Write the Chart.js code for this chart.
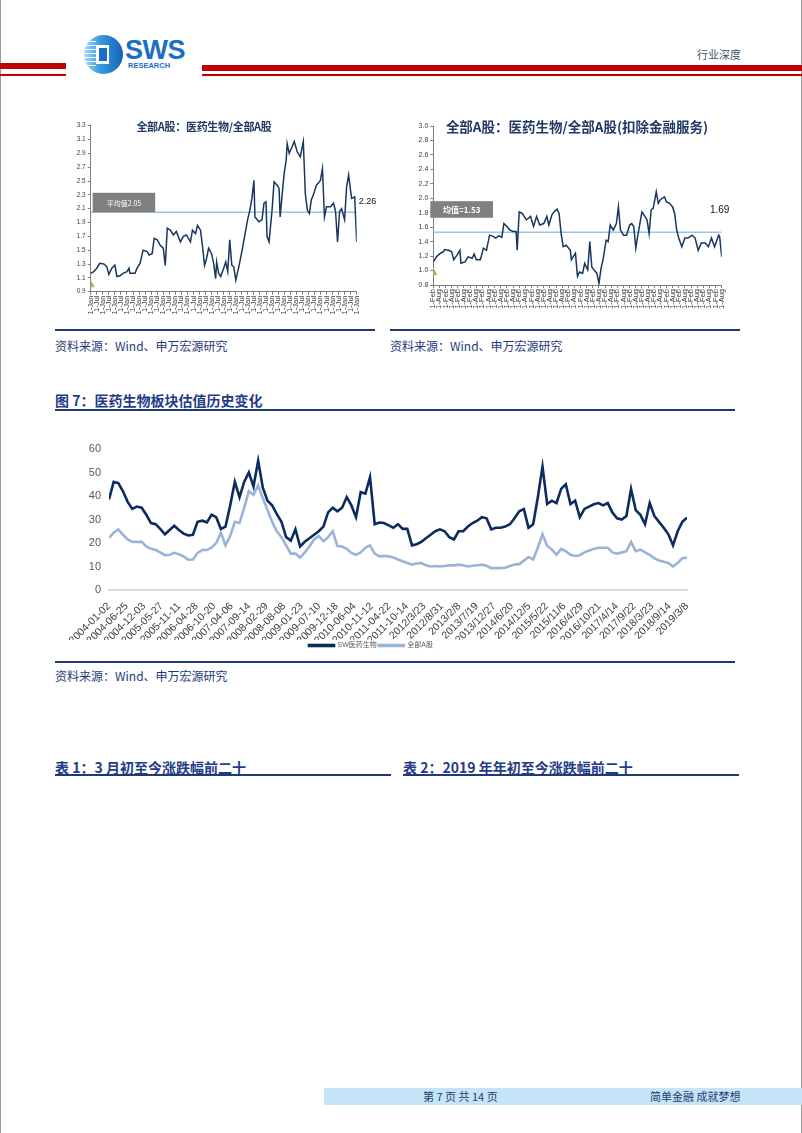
<!DOCTYPE html>
<html><head><meta charset="utf-8">
<script src="https://cdn.jsdelivr.net/npm/chart.js@4.4.1/dist/chart.umd.min.js"></script>
<style>
html,body{margin:0;padding:0;background:#fff;}
body{width:802px;height:1133px;position:relative;overflow:hidden;font-family:"Noto Sans CJK SC","Noto Sans",sans-serif;}
.abs{position:absolute;}
.txt{position:absolute;line-height:1;white-space:nowrap;}
.src{font-size:12px;color:#1f3b7a;}
.head{font-size:14px;font-weight:bold;color:#1f3c88;}
canvas{position:absolute;}
</style></head><body>
<!-- page borders -->
<div class="abs" style="left:0;top:0;width:1px;height:1133px;background:#9a9a9a"></div>
<div class="abs" style="left:801px;top:0;width:1px;height:1133px;background:#9a9a9a"></div>
<!-- header bars -->
<div class="abs" style="left:0;top:63px;width:66px;height:6px;background:#c00000"></div>
<div class="abs" style="left:0;top:74px;width:66px;height:1.5px;background:#c00000"></div>
<div class="abs" style="left:202px;top:65px;width:600px;height:6px;background:#c00000"></div>
<div class="abs" style="left:202px;top:74px;width:600px;height:1.5px;background:#c00000"></div>
<!-- logo -->
<div class="abs" style="left:84px;top:35px;width:39px;height:39px;border-radius:50%;background:linear-gradient(90deg,#a9dbf7 0%,#3a9be0 40%,#1562b9 100%);"></div>
<div class="abs" style="left:84px;top:41px;width:12px;height:27px;background:repeating-linear-gradient(180deg,rgba(255,255,255,0.9) 0 1.5px,transparent 1.5px 4px);"></div>
<div class="abs" style="left:96px;top:45px;width:13px;height:19px;background:#fff;"></div>
<div class="abs" style="left:99px;top:48px;width:8px;height:13px;background:#1a6fc4;"></div>
<div class="txt" style="left:125px;top:37px;font-family:'Liberation Sans',Arial,sans-serif;font-weight:bold;font-size:27px;color:#1a6fc4;letter-spacing:-0.5px;">SWS</div>
<div class="txt" style="left:128px;top:62px;font-family:'Liberation Sans',Arial,sans-serif;font-weight:bold;font-size:7.5px;color:#1a6fc4;">RESEARCH</div>
<div class="txt" style="left:697px;top:49px;font-size:11px;color:#44546a;">行业深度</div>

<!-- small charts -->
<canvas id="c1" width="330" height="215" style="left:55px;top:112px"></canvas>
<canvas id="c2" width="350" height="215" style="left:390px;top:112px"></canvas>
<div class="txt" style="left:204px;top:121px;transform:translateX(-50%);font-size:11px;font-weight:bold;color:#1f3864;letter-spacing:-0.3px;">全部A股：医药生物/全部A股</div>
<div class="txt" style="left:577px;top:120px;transform:translateX(-50%);font-size:13.5px;font-weight:bold;color:#1f3864;">全部A股：医药生物/全部A股(扣除金融服务)</div>
<div class="abs" style="left:55px;top:329px;width:320px;height:1.5px;background:#1f3b73"></div>
<div class="abs" style="left:390px;top:329px;width:350px;height:1.5px;background:#1f3b73"></div>
<div class="txt src" style="left:55px;top:340px;">资料来源：Wind、申万宏源研究</div>
<div class="txt src" style="left:390px;top:340px;">资料来源：Wind、申万宏源研究</div>

<!-- figure 7 -->
<div class="txt head" style="left:55px;top:393px;">图 7：医药生物板块估值历史变化</div>
<div class="abs" style="left:55px;top:409px;width:680px;height:2px;background:#1f3b73"></div>
<canvas id="c3" width="680" height="224" style="left:55px;top:435px"></canvas>
<div class="abs" style="left:55px;top:661px;width:680px;height:1.5px;background:#1f3b73"></div>
<div class="txt src" style="left:55px;top:670px;">资料来源：Wind、申万宏源研究</div>

<!-- tables headings -->
<div class="txt head" style="left:55px;top:760px;">表 1：3 月初至今涨跌幅前二十</div>
<div class="abs" style="left:55px;top:774px;width:336px;height:2px;background:#1f3b73"></div>
<div class="txt head" style="left:403px;top:760px;">表 2：2019 年年初至今涨跌幅前二十</div>
<div class="abs" style="left:403px;top:774px;width:336px;height:2px;background:#1f3b73"></div>

<!-- footer -->
<div class="abs" style="left:324px;top:1088px;width:478px;height:17px;background:#c6e4f7"></div>
<div class="txt" style="left:423px;top:1091px;font-size:11px;color:#1f3b73;">第 7 页 共 14 页</div>
<div class="txt" style="left:650px;top:1091px;font-size:11px;color:#1f3b73;">简单金融 成就梦想</div>

<script>
// ---------- data ----------
const mainTickLabels = ['2004-01-02','2004-06-25','2004-12-03','2005-05-27','2005-11-11','2006-04-28','2006-10-20','2007-04-06','2007-09-14','2008-02-29','2008-08-08','2009-01-23','2009-07-10','2009-12-18','2010-06-04','2010-11-12','2011-04-22','2011-10-14','2012/3/23','2012/8/31','2013/2/8','2013/7/19','2013/12/27','2014/6/20','2014/12/5','2015/5/22','2015/11/6','2016/4/29','2016/10/21','2017/4/14','2017/9/22','2018/3/23','2018/9/14','2019/3/8'];
const mainYTicks = [0,10,20,30,40,50,60];
const swPharma = [38.5,46,45.5,42,37.5,34.5,35.5,35,32,28.5,
 28,26,23.7,25.5,27.3,25.5,24,23.2,23.5,29,
 29.5,28.8,32,31,26,27,36,46,39.5,46,
 50,44,55,43.5,38,36,32.3,29,22.5,21,
 25.8,18.5,20.5,22,23.5,25,27,33,35,33.5,
 35,39.5,36,31,41.6,41,48,28,28.7,28.5,
 27.5,26.5,28,26,26,19,19.5,20.5,22,23.5,
 25,25.8,25,22.5,21.5,25,25,27,28.5,29.5,
 31,30.5,25.8,26.5,26.5,27,28,30.5,33.5,34.4,
 26.5,28,39.5,52.5,36.6,38,37,43,45,36.6,
 38,31,34.5,35.5,36.5,37,36,37,33,30.5,
 30,31.5,43,34,32,28,37,31.5,29,26.5,
 23.7,19,25,29,30.8];
const allAShares = [22.2,24.4,25.8,23.5,21.5,20.5,20.5,20.5,18.5,17.5,
 17,16,14.8,15,15.8,15.2,14.3,12.9,13,15.8,
 17,17,18,20,24.4,19,23,29,28.5,35,
 42,40.5,44.5,39,34,29,25,22.5,19,15.5,
 15.5,13.8,16,18.5,21.5,23,20.8,22.5,25,18.7,
 18.5,17.5,15.8,15,16,18,19,15.5,14.3,14.5,
 14.3,13.8,13,12.2,11.5,10.8,11.3,11.5,10.5,10,
 10.2,10,10.2,10.5,10.5,10.8,10.5,10,10.3,10.5,
 10.8,10.3,9.3,9.3,9.3,9.5,10.2,10.8,11,12.5,
 14,13,18,23.7,18.7,17.2,15,17.5,16.5,15,
 14.5,14.8,16,16.8,17.5,18,18,18,16,15.5,
 16,16.5,20.5,16.5,17.2,16,15,13.5,12.5,12,
 11.5,10,11.5,13.5,13.8];
const mainSeriesNames = ['SW医药生物','全部A股'];

// left small chart: months since first tick, ratio
const leftMonths = [0,3,6,9,13,16,18,21,24,26,29,32,36,38,39,44,46,49,52,56,58,61,63,66,69,72,74,76,79,82,85,89,92,95,99,101,104,106,109,111,113,115,117,120,122,124,125,127,129,132,134,136,138,140,142,144,147,150,153,156,158,160,162,163,167,170,172,174,175,177,180,182,185,187,188,190,192,194,195,197,200,202,205,208,211,213,215,217,219,221,224,226,228,230,232,234,238,241,243,245,247,249,252,254,256,258,259,262,263,264];
const leftRatio = [1.165,1.19,1.24,1.31,1.30,1.26,1.15,1.24,1.285,1.12,1.13,1.165,1.19,1.24,1.165,1.165,1.24,1.31,1.50,1.48,1.43,1.45,1.67,1.65,1.57,1.53,1.28,1.82,1.79,1.72,1.77,1.62,1.70,1.72,1.62,1.79,1.74,1.86,1.79,1.55,1.28,1.38,1.53,1.45,1.31,1.09,1.33,1.165,1.12,1.24,1.33,1.19,1.65,1.285,1.26,1.07,1.26,1.48,1.72,1.96,2.08,2.25,2.51,1.98,1.91,1.94,2.18,2.20,1.70,1.62,2.08,2.49,2.44,2.39,1.98,2.30,2.61,2.80,3.04,2.90,3.00,3.07,2.92,2.85,3.07,2.32,2.08,2.03,2.23,2.30,2.44,2.47,2.51,2.68,1.98,2.13,2.13,2.18,2.06,1.62,2.06,2.10,1.94,2.42,2.59,2.35,2.25,2.27,1.94,1.62];
const leftTickLabels = Array.from({length:45},(_,k)=> k%2 ? '1-Jul' : '1-Jan');
const leftYTicks = [0.9,1.1,1.3,1.5,1.7,1.9,2.1,2.3,2.5,2.7,2.9,3.1,3.3];
const leftMean = 2.05, leftMeanText = '平均值2.05', leftLastText = '2.26';

// right small chart
const rightMonths = [0,3,7,10,11,15,18,20,23,26,27,31,34,38,40,42,46,49,52,55,59,61,64,67,69,72,75,78,81,82,84,87,91,95,98,101,104,108,111,113,116,118,121,123,125,127,130,134,135,139,141,143,146,148,151,153,155,157,160,162,164,166,169,171,173,176,179,181,183,186,189,192,194,196,198,200,204,206,209,211,213,215,218,220,222,226,228,231,234,236,238,240,243,246,249,253,256,259,262,266,269,272,275,279,280,282];
const rightRatio = [1.12,1.19,1.24,1.26,1.29,1.28,1.26,1.15,1.21,1.28,1.10,1.12,1.19,1.17,1.23,1.15,1.15,1.31,1.28,1.49,1.47,1.45,1.48,1.46,1.65,1.61,1.56,1.54,1.54,1.28,1.81,1.79,1.70,1.75,1.61,1.75,1.63,1.65,1.75,1.63,1.77,1.81,1.85,1.79,1.51,1.33,1.35,1.28,1.15,1.24,0.92,0.98,0.96,1.10,1.01,1.40,1.05,1.01,0.96,0.82,1.03,1.15,1.42,1.40,1.63,1.56,1.65,1.88,1.56,1.49,1.49,1.63,1.65,1.61,1.31,1.49,1.81,1.77,1.70,1.51,1.84,1.86,2.09,1.93,1.98,2.02,1.95,1.93,1.88,1.79,1.56,1.45,1.33,1.45,1.45,1.49,1.45,1.28,1.38,1.38,1.33,1.45,1.33,1.49,1.47,1.19];
const rightTickLabels = Array.from({length:48},(_,k)=> k%2 ? '1-Aug' : '1-Feb');
const rightYTicks = [0.8,1.0,1.2,1.4,1.6,1.8,2.0,2.2,2.4,2.6,2.8,3.0];
const rightMean = 1.53, rightMeanText = '均值=1.53', rightLastText = '1.69';

// ---------- rendering ----------
Chart.defaults.font.family = '"Liberation Sans","Noto Sans CJK SC",Arial,sans-serif';
Chart.defaults.animation = false;

const annot = {
  id: 'annot',
  afterDatasetsDraw(chart, args, o) {
    if (!o || !o.box) return;
    const {ctx, chartArea, scales: {x, y}} = chart;
    ctx.save();
    const b = o.box;
    const x0 = chartArea.left + b.dx0, x1 = x.getPixelForValue(b.x1);
    const yt = y.getPixelForValue(b.yTop), yb = y.getPixelForValue(b.yBot);
    ctx.fillStyle = b.color;
    ctx.fillRect(x0, yt, x1 - x0, yb - yt);
    ctx.fillStyle = '#fff';
    ctx.font = b.font;
    ctx.textAlign = 'center';
    ctx.textBaseline = 'middle';
    ctx.fillText(b.text, (x0 + x1) / 2, (yt + yb) / 2 + 0.5);
    const l = o.label;
    ctx.fillStyle = '#111';
    ctx.font = l.font;
    ctx.textAlign = l.align;
    ctx.fillText(l.text, x.getPixelForValue(l.x) + l.dx, y.getPixelForValue(l.y));
    ctx.restore();
  }
};

function smallChart(id, months, ratio, tickLabels, yTicks, mean, markerY, plot, box, label) {
  const xMax = (tickLabels.length - 1) * 6;
  const pts = months.map((m, i) => ({x: m, y: ratio[i]}));
  return new Chart(document.getElementById(id), {
    type: 'line',
    data: {datasets: [
      {data: pts, borderColor: '#17375e', borderWidth: 1.5, pointRadius: 0, order: 1},
      {data: [{x: 0, y: mean}, {x: xMax, y: mean}], borderColor: '#9dc3e6', borderWidth: 1.5, pointRadius: 0, order: 2},
      {data: [{x: 0, y: markerY}], showLine: false, pointStyle: 'triangle', pointRadius: 4, backgroundColor: '#92c35a', borderColor: '#92c35a', order: 0}
    ]},
    options: {
      responsive: false, devicePixelRatio: 1, events: [],
      layout: {padding: {left: 0, top: plot.top, right: plot.right, bottom: 0}},
      plugins: {legend: {display: false}, tooltip: {enabled: false}, annot: {box, label}},
      scales: {
        x: {type: 'linear', min: 0, max: xMax,
          afterBuildTicks: s => { s.ticks = tickLabels.map((_, k) => ({value: k * 6})); },
          afterFit: s => { s.height = plot.xh; },
          ticks: {autoSkip: false, maxRotation: 90, minRotation: 90, font: {size: 7.5}, color: '#404040', padding: 1,
            callback: (v, i) => tickLabels[i]},
          grid: {display: true, drawOnChartArea: false, drawTicks: true, tickLength: 3, color: '#7f7f7f'},
          border: {color: '#7f7f7f', width: 1}},
        y: {min: yTicks[0], max: yTicks[yTicks.length - 1],
          afterBuildTicks: s => { s.ticks = yTicks.map(v => ({value: v})); },
          afterFit: s => { s.width = plot.left; },
          ticks: {font: {size: plot.yFont}, color: '#404040', padding: 2, callback: v => Number(v).toFixed(1)},
          grid: {display: true, drawOnChartArea: false, drawTicks: true, tickLength: 3, color: '#7f7f7f'},
          border: {color: '#7f7f7f', width: 1}}
      }
    },
    plugins: [annot]
  });
}

smallChart('c1', leftMonths, leftRatio, leftTickLabels, leftYTicks, leftMean, 1.0,
  {left: 35.7, top: 13.7, right: 28.3, xh: 35.3, yFont: 6.5},
  {dx0: 2, x1: 64, yTop: 2.33, yBot: leftMean, color: '#7f7f7f', text: leftMeanText, font: '7px "Noto Sans CJK SC",sans-serif'},
  {text: leftLastText, x: 264, dx: 2, y: 2.2, align: 'left', font: '9px "Liberation Sans",Arial,sans-serif'});

smallChart('c2', rightMonths, rightRatio, rightTickLabels, rightYTicks, rightMean, 0.97,
  {left: 43.3, top: 14, right: 18.3, xh: 42, yFont: 7},
  {dx0: -3, x1: 58.4, yTop: 1.96, yBot: 1.73, color: '#808080', text: rightMeanText, font: 'bold 8px "Noto Sans CJK SC",sans-serif'},
  {text: rightLastText, x: 282, dx: -2, y: 1.84, align: 'center', font: '10px "Liberation Sans",Arial,sans-serif'});

// main chart
const N = swPharma.length;
new Chart(document.getElementById('c3'), {
  type: 'line',
  data: {
    labels: swPharma.map((_, i) => i),
    datasets: [
      {label: mainSeriesNames[0], data: swPharma.map((v, i) => ({x: i, y: v})), borderColor: '#0c2c5e', backgroundColor: '#0c2c5e', borderWidth: 2.6, pointRadius: 0},
      {label: mainSeriesNames[1], data: allAShares.map((v, i) => ({x: i, y: v})), borderColor: '#9ab4d8', backgroundColor: '#9ab4d8', borderWidth: 2.6, pointRadius: 0}
    ]
  },
  options: {
    responsive: false, devicePixelRatio: 1, events: [],
    layout: {padding: {left: 0, top: 14, right: 48, bottom: 0}},
    plugins: {
      tooltip: {enabled: false},
      legend: {display: true, position: 'bottom',
        labels: {boxWidth: 25, boxHeight: 1, padding: 2, color: '#595959', font: {size: 7}}}
    },
    scales: {
      x: {type: 'linear', min: 0, max: N - 1,
        afterBuildTicks: s => { s.ticks = mainTickLabels.map((_, k) => ({value: k * (N - 1) / (mainTickLabels.length - 1)})); },
        afterFit: s => { s.height = 50; },
        ticks: {autoSkip: false, maxRotation: 45, minRotation: 45, font: {size: 10.5}, color: '#404040', padding: 2,
          callback: (v, i) => mainTickLabels[i]},
        grid: {display: false},
        border: {color: '#d9d9d9', width: 2}},
      y: {min: 0, max: 60,
        afterBuildTicks: s => { s.ticks = mainYTicks.map(v => ({value: v})); },
        afterFit: s => { s.width = 54; },
        ticks: {font: {size: 11}, color: '#595959', padding: 0},
        grid: {display: false},
        border: {display: false}}
    }
  }
});
</script>
</body></html>
